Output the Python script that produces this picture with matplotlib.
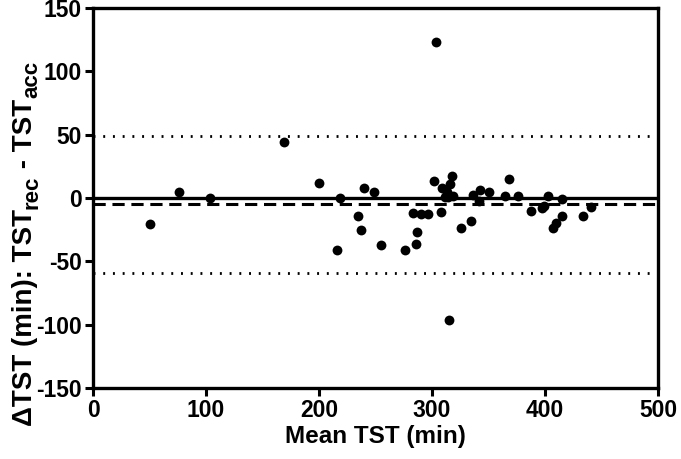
import matplotlib
matplotlib.use("Agg")
import matplotlib.pyplot as plt
from matplotlib.transforms import IdentityTransform

mean_tst = [50.3, 75.7, 103.8, 168.7, 200.4, 215.6, 218.6, 234.8, 237.4, 240.1,
            249.0, 255.3, 275.8, 283.4, 285.7, 287.0, 290.0, 296.6, 301.9, 303.6,
            307.9, 308.9, 311.5, 313.2, 315.5, 317.8, 315.1, 318.8, 314.0, 325.4,
            334.3, 336.6, 341.6, 342.3, 350.5, 364.8, 367.7, 376.3, 387.6, 397.5,
            399.1, 402.5, 407.4, 409.7, 414.7, 414.7, 433.5, 441.1]
diff_tst = [-20.9, 4.8, 0.0, 43.9, 11.9, -41.3, 0.3, -14.3, -25.4, 7.7,
            4.5, -37.3, -41.0, -11.6, -36.5, -26.7, -13.0, -13.0, 13.2, 122.8,
            -11.4, 8.2, 0.5, 4.5, 11.1, 17.7, -96.6, 1.9, 0.5, -23.3,
            -18.3, 2.1, -2.1, 6.6, 4.5, 1.3, 15.1, 1.6, -10.6, -8.2,
            -6.6, 1.9, -23.3, -19.6, -14.3, -1.1, -14.0, -7.1]
bias = -5.0
loa_upper = 49.0
loa_lower = -59.0
xticks = [0, 100, 200, 300, 400, 500]
yticks = [-150, -100, -50, 0, 50, 100, 150]
xlabel = 'Mean TST (min)'
ylabel_parts = [('ΔTST (min): TST', False), ('rec', True), (' - TST', False), ('acc', True)]

plt.rcParams['font.family'] = ['Liberation Sans', 'DejaVu Sans']
plt.rcParams['font.weight'] = 'bold'
plt.rcParams['axes.unicode_minus'] = False

fig = plt.figure(figsize=(6.81, 4.59), dpi=100)
ax = fig.add_axes([93/681, 1-388/459, (658-93)/681, (388-8)/459])

ax.axhline(0, color='black', lw=2.4, zorder=2)
ax.axhline(bias, color='black', lw=2.2, ls=(0, (4, 2.2)), zorder=2)
ax.axhline(loa_upper, color='black', lw=2.0, ls=(0, (0.7, 2.8)), zorder=2)
ax.axhline(loa_lower, color='black', lw=2.0, ls=(0, (0.7, 2.8)), zorder=2)
ax.scatter(mean_tst, diff_tst, s=50, color='black', zorder=3, linewidths=0)

ax.set_xlim(0, 500)
ax.set_ylim(-150, 150)
ax.set_xticks(xticks)
ax.set_yticks(yticks)
for s in ax.spines.values():
    s.set_linewidth(2.4)
ax.tick_params(width=2.2, length=6, labelsize=16.5, direction='out', pad=2)
for lab in ax.get_xticklabels() + ax.get_yticklabels():
    lab.set_fontweight('bold')
ax.set_xlabel(xlabel, fontsize=17.5, fontweight='bold', labelpad=2)

# y label assembled from pieces (rotated, reading bottom to top)
renderer = fig.canvas.get_renderer()
main_size, sub_size = 20, 16
xb = 32.0          # baseline x in pixels from left
y = 459 - 426.0    # start (bottom) in pixels from bottom
for txt, is_sub in ylabel_parts:
    size = sub_size if is_sub else main_size
    dx = 5.5 if is_sub else 0.0
    t = fig.text(xb + dx, y, txt, rotation=90, rotation_mode='anchor',
                 ha='left', va='baseline', fontsize=size, fontweight='bold',
                 transform=IdentityTransform())
    bb = t.get_window_extent(renderer)
    y += bb.height

fig.savefig('out.png', dpi=100)
